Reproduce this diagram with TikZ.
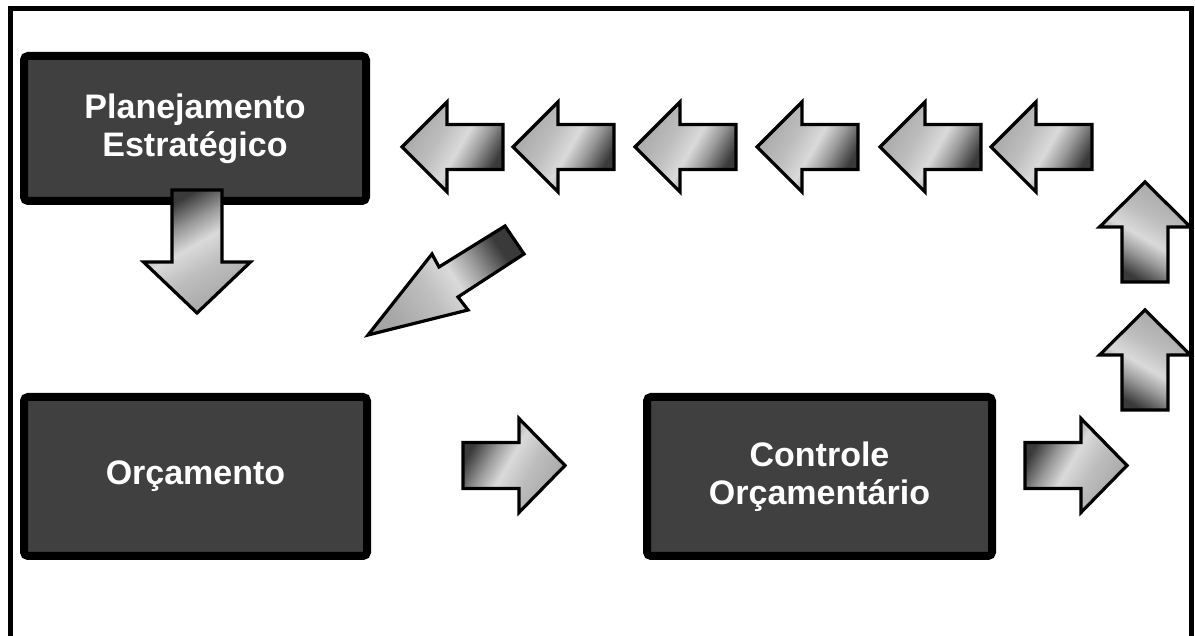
\documentclass[tikz,border=0pt]{standalone}
\usepackage{fontspec}
\setmainfont{Liberation Sans}
\definecolor{boxgray}{HTML}{404040}
\definecolor{adark}{HTML}{3A3A3A}
\definecolor{amid}{HTML}{9A9A9A}
\definecolor{alight}{HTML}{DADADA}
\definecolor{agray}{HTML}{BEBEBE}
\definecolor{atip}{HTML}{A6A6A6}
\pgfdeclarehorizontalshading{arrowshade}{100bp}{color(0bp)=(adark); color(27bp)=(adark); color(38bp)=(amid); color(47bp)=(alight); color(58bp)=(agray); color(75bp)=(atip); color(100bp)=(atip)}
\begin{document}
\begin{tikzpicture}[x=0.5pt,y=0.5pt,
  box/.style={draw=black, line width=4pt, fill=boxgray, rounded corners=2pt,
    text=white, font=\bfseries\fontsize{17}{19}\selectfont, align=center, inner sep=0pt},
  barrow/.style={draw=black, line width=1.6pt, line join=miter, shade, shading=arrowshade}]
\useasboundingbox (0,0) rectangle (1195,636);
\fill[white] (0,0) rectangle (1195,636);
\begin{scope}
  \clip (0,0) rectangle (1195,636);
  \draw[line width=2.5pt] (10,-20) -- (10,627) -- (1191,627) -- (1191,-20);
\end{scope}
% boxes
\node[box, minimum width=171pt, minimum height=72.5pt] (plan) at (195,507.5) {Planejamento\\Estratégico};
\node[box, minimum width=171.5pt, minimum height=79.5pt] (orc) at (195.5,159.5) {Orçamento};
\node[box, minimum width=172.5pt, minimum height=79.5pt] (ctrl) at (819.5,159.5) {Controle\\Orçamentário};
% top row of left arrows
\foreach \t in {402,513,635,757,880,991}
  \path[barrow, shading angle=150] (\t,489) -- ++(45,45) -- ++(0,-22.5) -- ++(56,0) -- ++(0,-45) -- ++(-56,0) -- ++(0,-22.5) -- cycle;
% right arrows
\foreach \t in {565,1127}
  \path[barrow, shading angle=330] (\t,170.5) -- ++(-46,47) -- ++(0,-24) -- ++(-56,0) -- ++(0,-46) -- ++(56,0) -- ++(0,-24) -- cycle;
% up arrows
\foreach \t in {454,326}
  \path[barrow, shading angle=60] (1145,\t) -- ++(45.5,-45) -- ++(-22.5,0) -- ++(0,-55) -- ++(-46,0) -- ++(0,55) -- ++(-22.5,0) -- cycle;
% down arrow
\path[barrow, shading angle=300] (197,323) -- ++(-53.5,51) -- ++(28.5,0) -- ++(0,72) -- ++(50,0) -- ++(0,-72) -- ++(28.5,0) -- cycle;
% diagonal arrow
\path[barrow, shading angle=213] (368,301) -- (432,382) -- (439,369) -- (505,410) -- (524,382) -- (458,339) -- (468,326) -- cycle;
\end{tikzpicture}
\end{document}
